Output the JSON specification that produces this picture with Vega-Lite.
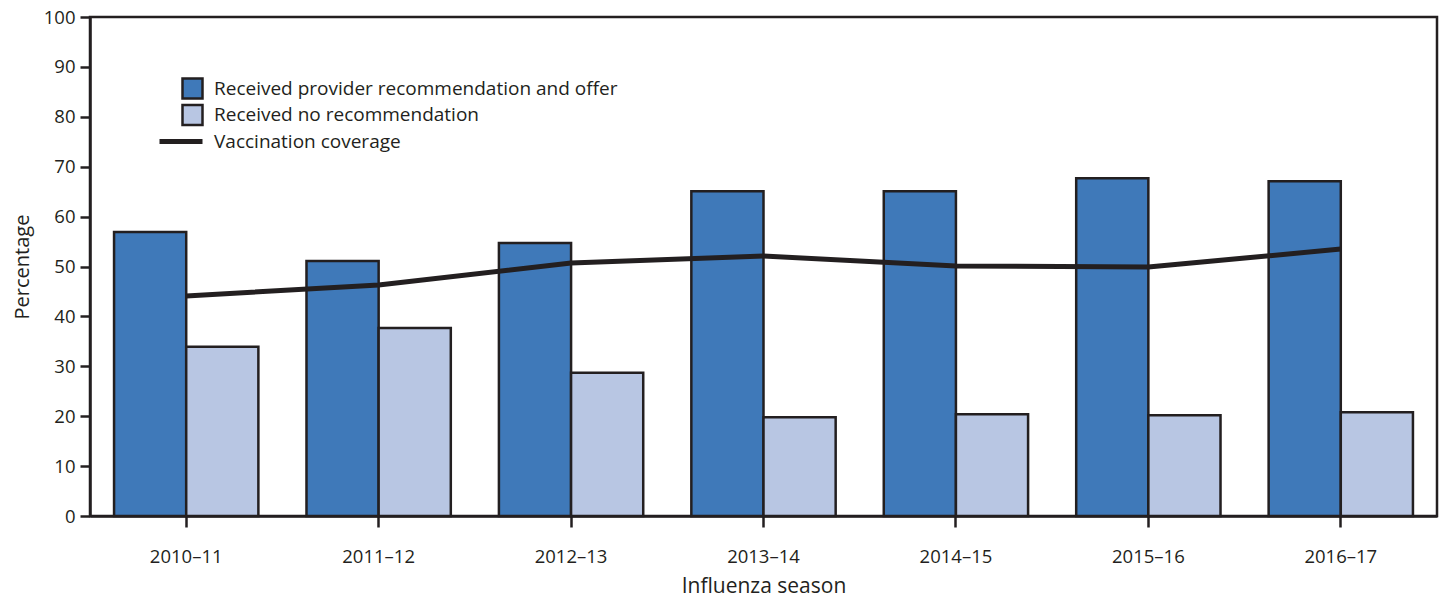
{
  "$schema": "https://vega.github.io/schema/vega-lite/v6.json",
  "autosize": {"type": "none"},
  "width": 1347,
  "height": 499,
  "padding": {"left": 90, "top": 17, "right": 7, "bottom": 85},
  "background": "white",
  "config": {
    "font": "Open Sans",
    "view": {"stroke": "#231f20", "strokeWidth": 2.5},
    "axis": {
      "domainColor": "#231f20", "domainWidth": 2.5,
      "tickColor": "#231f20", "tickWidth": 2.5, "tickSize": 10,
      "labelColor": "#231f20", "labelFontSize": 18.5, "labelFont": "Open Sans",
      "titleColor": "#231f20", "titleFontSize": 20, "titleFontWeight": "normal", "titleFont": "Open Sans",
      "grid": false
    }
  },
  "datasets": {
    "bars": [
      {"season": "2010–11", "group": "Received provider recommendation and offer", "value": 56.9},
      {"season": "2010–11", "group": "Received no recommendation", "value": 33.9},
      {"season": "2011–12", "group": "Received provider recommendation and offer", "value": 51.1},
      {"season": "2011–12", "group": "Received no recommendation", "value": 37.7},
      {"season": "2012–13", "group": "Received provider recommendation and offer", "value": 54.7},
      {"season": "2012–13", "group": "Received no recommendation", "value": 28.7},
      {"season": "2013–14", "group": "Received provider recommendation and offer", "value": 65.1},
      {"season": "2013–14", "group": "Received no recommendation", "value": 19.8},
      {"season": "2014–15", "group": "Received provider recommendation and offer", "value": 65.1},
      {"season": "2014–15", "group": "Received no recommendation", "value": 20.4},
      {"season": "2015–16", "group": "Received provider recommendation and offer", "value": 67.7},
      {"season": "2015–16", "group": "Received no recommendation", "value": 20.2},
      {"season": "2016–17", "group": "Received provider recommendation and offer", "value": 67.1},
      {"season": "2016–17", "group": "Received no recommendation", "value": 20.8}
    ],
    "line": [
      {"season": "2010–11", "group": "Vaccination coverage", "value": 44.1},
      {"season": "2011–12", "group": "Vaccination coverage", "value": 46.3},
      {"season": "2012–13", "group": "Vaccination coverage", "value": 50.7},
      {"season": "2013–14", "group": "Vaccination coverage", "value": 52.1},
      {"season": "2014–15", "group": "Vaccination coverage", "value": 50.1},
      {"season": "2015–16", "group": "Vaccination coverage", "value": 49.9},
      {"season": "2016–17", "group": "Vaccination coverage", "value": 53.5}
    ]
  },
  "encoding": {
    "x": {
      "field": "season", "type": "nominal", "sort": null,
      "scale": {"paddingInner": 0.25, "paddingOuter": 0.125},
      "axis": {"title": "Influenza season", "labelAngle": 0, "labelPadding": 20, "titlePadding": 10, "tickSize": 11, "titleFontSize": 21}
    },
    "y": {
      "field": "value", "type": "quantitative",
      "scale": {"domain": [0, 100]},
      "axis": {"title": "Percentage", "values": [0,10,20,30,40,50,60,70,80,90,100], "labelPadding": 5, "titlePadding": 11}
    }
  },
  "layer": [
    {
      "data": {"name": "bars"},
      "mark": {"type": "bar", "stroke": "#231f20", "strokeWidth": 2.5},
      "encoding": {
        "xOffset": {"field": "group", "type": "nominal", "sort": ["Received provider recommendation and offer", "Received no recommendation"], "scale": {"paddingInner": 0, "paddingOuter": 0}},
        "fill": {
          "field": "group", "type": "nominal",
          "scale": {
            "domain": ["Received provider recommendation and offer", "Received no recommendation", "Vaccination coverage"],
            "range": ["#3f79b9", "#b8c6e3", "#231f20"]
          },
          "legend": {
            "title": null, "orient": "none", "legendX": 93, "legendY": 62,
            "padding": 0, "rowPadding": -4.5, "gridAlign": "all", "labelFontSize": 19, "labelColor": "#231f20", "labelFont": "Open Sans",
            "labelOffset": 12, "symbolSize": 400, "symbolType": "square", "labelLimit": 700,
            "symbolStrokeColor": "#231f20", "symbolStrokeWidth": 2.5, "symbolOpacity": 1,
            "encode": {
              "symbols": {
                "update": {
                  "shape": {"signal": "datum.label == 'Vaccination coverage' ? 'M -3.3 0 L 1 0' : 'square'"},
                  "size": {"value": 400},
                  "strokeWidth": {"signal": "datum.label == 'Vaccination coverage' ? 5 : 2.5"},
                  "stroke": {"value": "#231f20"},
                  "strokeOpacity": {"value": 1},
                  "opacity": {"value": 1}
                }
              }
            }
          }
        }
      }
    },
    {
      "data": {"name": "line"},
      "mark": {"type": "line", "strokeWidth": 5, "color": "#231f20"},
      "encoding": {}
    }
  ]
}
